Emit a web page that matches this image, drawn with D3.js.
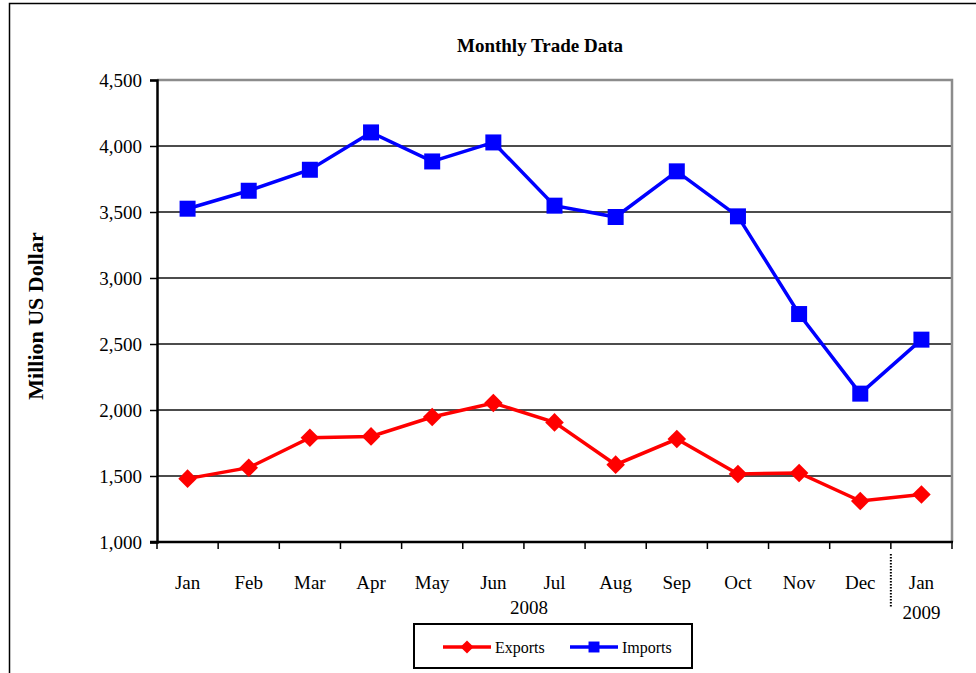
<!DOCTYPE html>
<html>
<head>
<meta charset="utf-8">
<script src="https://cdn.jsdelivr.net/npm/d3@7"></script>
<style>
  body { margin: 0; background: #fff; }
  svg text { font-family: "Liberation Serif", "Times New Roman", serif; }
</style>
</head>
<body>
<script>
// data
var months = ["Jan","Feb","Mar","Apr","May","Jun","Jul","Aug","Sep","Oct","Nov","Dec","Jan"];
var exportsData = [1480, 1563, 1790, 1800, 1947, 2053, 1906, 1586, 1780, 1515, 1523, 1310, 1360];
var importsData = [3525, 3661, 3820, 4103, 3883, 4027, 3548, 3462, 3808, 3467, 2727, 2124, 2533];
var yTicks = [1000, 1500, 2000, 2500, 3000, 3500, 4000, 4500];

var width = 976, height = 673;
var plotLeft = 157, plotRight = 952, plotTop = 80, plotBottom = 542;

var svg = d3.select("body").append("svg")
  .attr("width", width)
  .attr("height", height);

// outer frame
svg.append("path")
  .attr("d", "M9.5," + height + "V3.5H" + width)
  .attr("fill", "none").attr("stroke", "#000").attr("stroke-width", 1.5);

var x = d3.scaleBand().domain(d3.range(months.length)).range([plotLeft, plotRight]);
var y = d3.scaleLinear().domain([1000, 4500]).range([plotBottom, plotTop]);

// gridlines
svg.append("g").selectAll("line")
  .data(yTicks.filter(function(d){ return d > 1000 && d < 4500; }))
  .enter().append("line")
  .attr("x1", plotLeft).attr("x2", plotRight)
  .attr("y1", function(d){ return y(d); }).attr("y2", function(d){ return y(d); })
  .attr("stroke", "#111").attr("stroke-width", 1.3);

// top and right plot borders (grey)
svg.append("path")
  .attr("d", "M" + plotLeft + "," + y(4500) + "H" + plotRight + "V" + plotBottom)
  .attr("fill", "none").attr("stroke", "#8c8c8c").attr("stroke-width", 2.5);

// y axis
var yAxis = d3.axisLeft(y).tickValues(yTicks).tickFormat(d3.format(",")).tickSizeOuter(0).tickSize(7);
var gy = svg.append("g").attr("transform", "translate(" + plotLeft + ",0)").call(yAxis);
gy.select(".domain").attr("stroke", "#000").attr("stroke-width", 2.5);
gy.selectAll(".tick line").attr("stroke", "#000").attr("stroke-width", 1.5);
gy.selectAll(".tick text")
  .style("font-family", "'Liberation Serif', 'Times New Roman', serif")
  .style("font-size", "19px")
  .attr("fill", "#000").attr("x", -15);

// x axis: ticks at band boundaries
var bw = x.bandwidth();
svg.append("line")
  .attr("x1", plotLeft - 7).attr("x2", plotRight + 1)
  .attr("y1", plotBottom).attr("y2", plotBottom)
  .attr("stroke", "#000").attr("stroke-width", 2.5);
svg.append("g").selectAll("line")
  .data(d3.range(months.length + 1))
  .enter().append("line")
  .attr("x1", function(i){ return plotLeft + i * bw; }).attr("x2", function(i){ return plotLeft + i * bw; })
  .attr("y1", plotBottom).attr("y2", plotBottom + 7)
  .attr("stroke", "#000").attr("stroke-width", 1.5);

svg.append("g").selectAll("text")
  .data(months)
  .enter().append("text")
  .attr("x", function(d, i){ return x(i) + bw / 2; })
  .attr("y", 589)
  .attr("text-anchor", "middle")
  .attr("font-size", 19)
  .text(function(d){ return d; });

// year labels
svg.append("text")
  .attr("x", (x(0) + x(11) + bw) / 2 + 5).attr("y", 614)
  .attr("text-anchor", "middle").attr("font-size", 19).text("2008");
svg.append("text")
  .attr("x", x(12) + bw / 2).attr("y", 619)
  .attr("text-anchor", "middle").attr("font-size", 19).text("2009");

// dotted separator between years
svg.append("line")
  .attr("x1", x(12)).attr("x2", x(12))
  .attr("y1", 554).attr("y2", 607)
  .attr("stroke", "#000").attr("stroke-width", 2).attr("stroke-dasharray", "1.5,1.5");

// title
svg.append("text")
  .attr("x", 540).attr("y", 52)
  .attr("text-anchor", "middle")
  .attr("font-size", 19).attr("font-weight", "bold")
  .text("Monthly Trade Data");

// y axis title
svg.append("text")
  .attr("transform", "translate(43,316) rotate(-90)")
  .attr("text-anchor", "middle")
  .attr("font-size", 22).attr("font-weight", "bold")
  .text("Million US Dollar");

// lines
var line = d3.line()
  .x(function(d, i){ return x(i) + bw / 2; })
  .y(function(d){ return y(d); });

svg.append("path").attr("d", line(exportsData))
  .attr("fill", "none").attr("stroke", "#ff0000").attr("stroke-width", 3.5);
svg.append("path").attr("d", line(importsData))
  .attr("fill", "none").attr("stroke", "#0000ff").attr("stroke-width", 3.5);

var diamond = d3.symbol().type(d3.symbolDiamond2).size(220);
var square = d3.symbol().type(d3.symbolSquare).size(256);

svg.append("g").selectAll("path")
  .data(exportsData)
  .enter().append("path")
  .attr("d", diamond)
  .attr("transform", function(d, i){ return "translate(" + (x(i) + bw / 2) + "," + y(d) + ")"; })
  .attr("fill", "#ff0000");

svg.append("g").selectAll("path")
  .data(importsData)
  .enter().append("path")
  .attr("d", square)
  .attr("transform", function(d, i){ return "translate(" + (x(i) + bw / 2) + "," + y(d) + ")"; })
  .attr("fill", "#0000ff");

// legend
var legend = svg.append("g");
legend.append("rect")
  .attr("x", 414).attr("y", 624).attr("width", 278).attr("height", 44)
  .attr("fill", "#fff").attr("stroke", "#000").attr("stroke-width", 2);

var items = [
  { name: "Exports", color: "#ff0000", sym: d3.symbol().type(d3.symbolDiamond2).size(110), x: 443 },
  { name: "Imports", color: "#0000ff", sym: d3.symbol().type(d3.symbolSquare).size(120), x: 570 }
];
items.forEach(function(it){
  legend.append("line")
    .attr("x1", it.x).attr("x2", it.x + 48)
    .attr("y1", 647).attr("y2", 647)
    .attr("stroke", it.color).attr("stroke-width", 3.5);
  legend.append("path").attr("d", it.sym)
    .attr("transform", "translate(" + (it.x + 24) + ",647)")
    .attr("fill", it.color);
  legend.append("text")
    .attr("x", it.x + 52).attr("y", 653)
    .attr("font-size", 16)
    .text(it.name);
});
</script>
</body>
</html>
